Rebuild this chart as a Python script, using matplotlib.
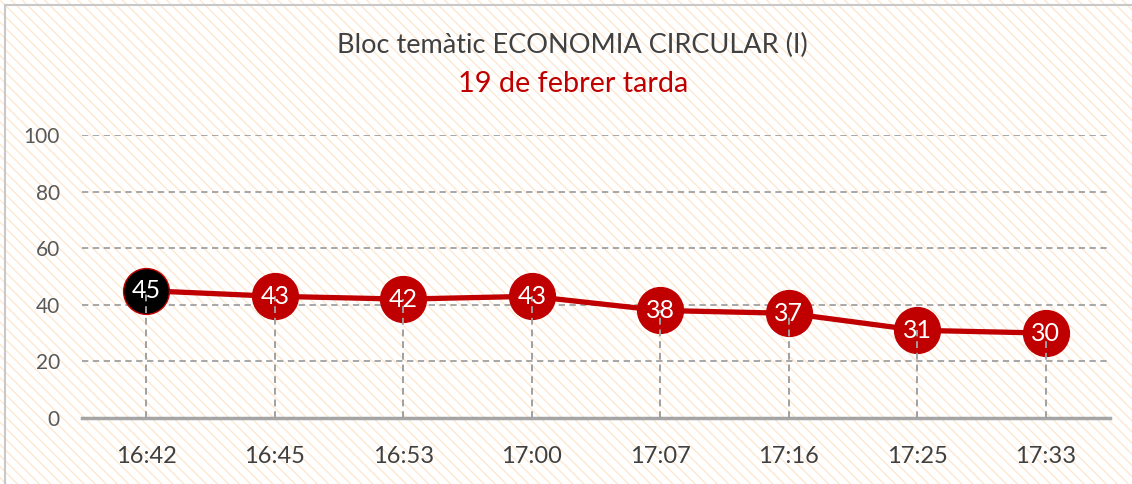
import matplotlib
matplotlib.use("Agg")
import matplotlib.pyplot as plt
from matplotlib.patches import Rectangle

plt.rcParams['font.family'] = ['Lato', 'DejaVu Sans']
plt.rcParams['hatch.linewidth'] = 1.0

# data
times = ['16:42', '16:45', '16:53', '17:00', '17:07', '17:16', '17:25', '17:33']
values = [45, 43, 42, 43, 38, 37, 31, 30]

red = '#c00000'
grey = '#a6a6a6'

fig = plt.figure(figsize=(11.32, 4.84), dpi=100)

# hatched background with thin border
fig.patches.append(Rectangle((0, 0), 1, 1, transform=fig.transFigure,
                             facecolor='white', edgecolor='#fde8d2',
                             hatch='\\' * 3, linewidth=0, zorder=-10))
fig.patches.append(Rectangle((5 / 1132, -0.1), 1.2, 1.1 - 5 / 484,
                             transform=fig.transFigure, fill=False,
                             edgecolor='#c8c8c8', linewidth=1.5, zorder=-5))

ax = fig.add_axes([82 / 1132, 1 - 418 / 484, (1110 - 82) / 1132, (418 - 135) / 484])
ax.patch.set_visible(False)

x = list(range(len(times)))
ax.set_xlim(-0.5, len(times) - 0.5)
ax.set_ylim(0, 100)
ax.set_yticks([0, 20, 40, 60, 80, 100])
ax.set_xticks(x)
ax.set_xticklabels(times)

for s in ['top', 'right', 'left']:
    ax.spines[s].set_visible(False)
ax.spines['bottom'].set_color(grey)
ax.spines['bottom'].set_linewidth(2.5)
ax.spines['bottom'].set_zorder(1)

ax.grid(axis='y', color='#a0a0a0', linestyle=(0, (3.5, 2.5)), linewidth=1.3, zorder=0)
ax.tick_params(axis='both', length=0)
ax.tick_params(axis='y', labelsize=15, labelcolor='#595959', pad=16)
ax.tick_params(axis='x', labelsize=17, labelcolor='#404040', pad=20)

ax.plot(x, values, color=red, linewidth=3.8, zorder=2)
colors = ['black'] + [red] * (len(values) - 1)
for xi, v, c in zip(x, values, colors):
    ax.plot(xi, v, 'o', markersize=33, markerfacecolor=c,
            markeredgecolor=red, markeredgewidth=1, zorder=3)
    ax.vlines(xi, 0, v, colors='#a0a0a0', linestyles=(0, (3.5, 2.5)), linewidth=1.4, zorder=4)
    ax.text(xi, v, str(v), color='white', fontsize=18, ha='center', va='center', zorder=5)

fig.text(572 / 1132, 1 - 45 / 484, 'Bloc temàtic ECONOMIA CIRCULAR (I)', ha='center', va='center',
         fontsize=19.5, color='#404040')
fig.text(573 / 1132, 1 - 84 / 484, '19 de febrer tarda', ha='center', va='center',
         fontsize=20.8, color=red)

fig.savefig('out.png', dpi=100)
